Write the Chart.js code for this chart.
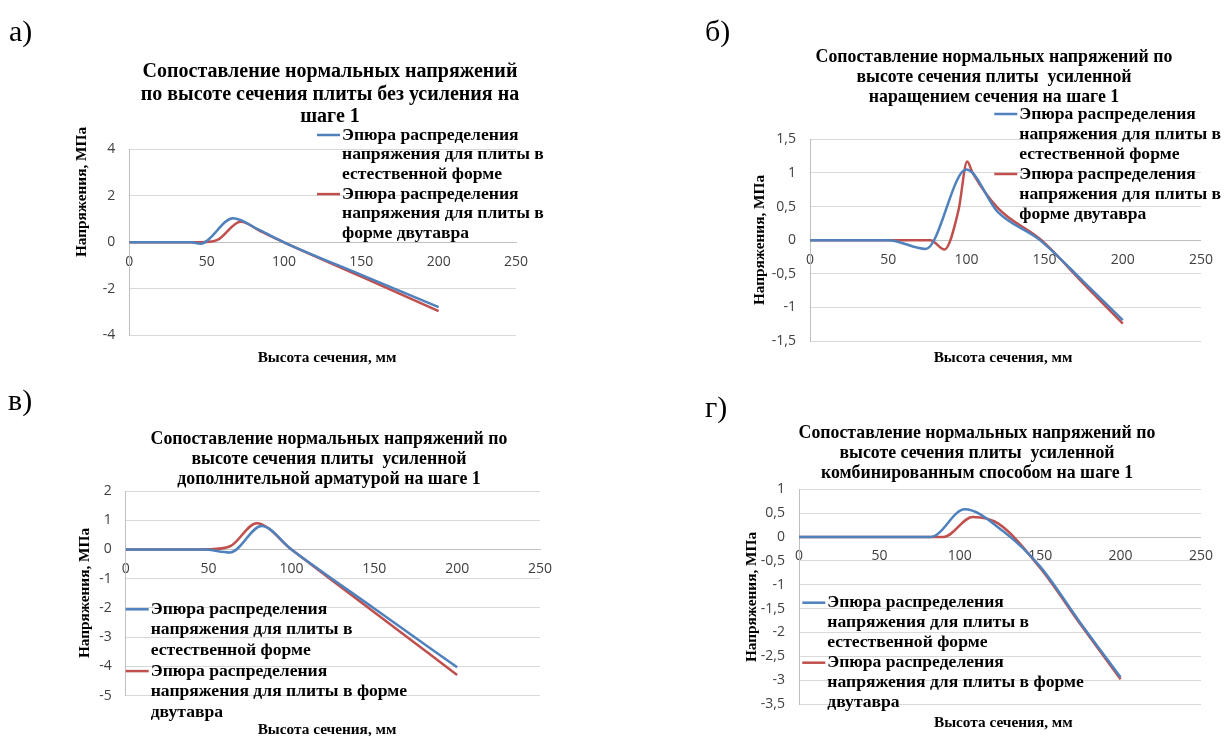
<!DOCTYPE html>
<html>
<head>
<meta charset="utf-8">
<script src="https://cdn.jsdelivr.net/npm/chart.js@4.4.1/dist/chart.umd.min.js"></script>
<style>
  body { margin: 0; background: #fff; }
  #page { position: relative; width: 1224px; height: 736px; overflow: hidden; }
  canvas { position: absolute; }
  .tag { position: absolute; font-family: "Liberation Serif", serif; font-size: 30px; line-height: 30px; color: #000; }
</style>
</head>
<body>
<div id="page">
  <canvas id="chartA" width="612" height="368" style="left:0;top:0"></canvas>
  <canvas id="chartB" width="612" height="368" style="left:612px;top:0"></canvas>
  <canvas id="chartC" width="612" height="368" style="left:0;top:368px"></canvas>
  <canvas id="chartD" width="612" height="368" style="left:612px;top:368px"></canvas>
  <div class="tag" style="left:9px;top:16px">а)</div>
  <div class="tag" style="left:705px;top:16px">б)</div>
  <div class="tag" style="left:8px;top:385px">в)</div>
  <div class="tag" style="left:705px;top:392px">г)</div>
</div>
<script>
// series names (legend)
const labelNatural = "Эпюра распределения напряжения для плиты в естественной форме";
const labelIbeam = "Эпюра распределения напряжения для плиты в форме двутавра";
const xTitle = "Высота сечения, мм";
const yTitle = "Напряжения, МПа";

// а) без усиления
const heightA1 = [0, 20, 40, 46, 67, 84, 100, 150, 200];
const stressA1 = [0, 0, 0, -0.06, 1.03, 0.53, 0, -1.4, -2.79];
const heightA2 = [0, 20, 40, 50, 57, 72, 85, 100, 150, 200];
const stressA2 = [0, 0, 0, 0.01, 0.1, 0.88, 0.47, 0, -1.48, -2.96];

// б) наращение сечения
const heightB1 = [0, 25, 50, 74, 100, 120, 147, 175, 200];
const stressB1 = [0, 0, 0, -0.13, 1.05, 0.42, 0, -0.62, -1.19];
const heightB2 = [0, 25, 50, 77, 86, 95, 100.5, 104, 120, 148, 175, 200];
const stressB2 = [0, 0, 0, 0, -0.14, 0.45, 1.17, 1.0, 0.48, 0, -0.65, -1.24];

// в) дополнительная арматура
const heightC1 = [0, 25, 47, 63, 82, 100, 150, 200];
const stressC1 = [0, 0, 0, -0.1, 0.8, 0, -2.02, -4.03];
const heightC2 = [0, 25, 50, 63, 79, 100, 150, 200];
const stressC2 = [0, 0, 0.01, 0.11, 0.9, 0, -2.15, -4.29];

// г) комбинированный способ
const heightD1 = [0, 40, 82, 103, 127, 150, 175, 200];
const stressD1 = [0, 0, 0, 0.58, 0.12, -0.62, -1.8, -2.94];
const heightD2 = [0, 40, 90, 108, 124, 150, 175, 200];
const stressD2 = [0, 0, 0, 0.42, 0.28, -0.65, -1.83, -2.98];

// y axis ranges [min, max, step]
const yRangeA = [-4, 4, 2];
const yRangeB = [-1.5, 1.5, 0.5];
const yRangeC = [-5, 2, 1];
const yRangeD = [-3.5, 1, 0.5];
const xRange = [0, 250, 50];

// legend wrapping as in the sheet
const legendNarrow = [
  ["Эпюра распределения", "напряжения для плиты в", "естественной форме"],
  ["Эпюра распределения", "напряжения для плиты в", "форме двутавра"]
];
const legendWide = [
  ["Эпюра распределения", "напряжения для плиты в", "естественной форме"],
  ["Эпюра распределения", "напряжения для плиты в форме", "двутавра"]
];

const BLUE = "#4F81BD";
const RED = "#C0504D";
const SERIF = '"Liberation Serif", "Times New Roman", serif';

function points(xs, ys) {
  return xs.map((x, i) => ({ x: x, y: ys[i] }));
}

// titles, axis titles and the legend, placed like in the sheet
function drawTexts(chart, p) {
  const ctx = chart.ctx;
  ctx.save();
  ctx.fillStyle = "#000";
  ctx.textBaseline = "middle";
  ctx.textAlign = "center";

  ctx.font = "bold " + p.titleSize + "px " + SERIF;
  p.title.forEach((line, i) => ctx.fillText(line, p.titleX, p.titleY + i * p.titleStep));

  ctx.font = "bold 15.3px " + SERIF;
  ctx.fillText(xTitle, p.xTitleX, p.xTitleY);
  ctx.save();
  ctx.translate(p.yTitleX, p.yTitleY);
  ctx.rotate(-Math.PI / 2);
  ctx.fillText(yTitle, 0, 0);
  ctx.restore();

  ctx.font = "bold 17.6px " + SERIF;
  ctx.textAlign = "left";
  let y = p.legendY;
  chart.data.datasets.forEach((ds, k) => {
    ctx.strokeStyle = ds.borderColor;
    ctx.lineWidth = 2.5;
    ctx.beginPath();
    ctx.moveTo(p.legendX - 25, y);
    ctx.lineTo(p.legendX - 2, y);
    ctx.stroke();
    p.legend[k].forEach(l => {
      ctx.fillText(l, p.legendX, y);
      y += p.legendStep;
    });
  });
  ctx.restore();
}

function makeChart(id, p) {
  const ctx = document.getElementById(id).getContext("2d");
  return new Chart(ctx, {
    type: "scatter",
    data: {
      datasets: [
        { label: labelNatural, data: points(p.x1, p.y1), borderColor: BLUE, backgroundColor: BLUE },
        { label: labelIbeam, data: points(p.x2, p.y2), borderColor: RED, backgroundColor: RED }
      ]
    },
    options: {
      responsive: false,
      animation: false,
      showLine: true,
      elements: {
        point: { radius: 0, hoverRadius: 0 },
        line: { borderWidth: 2.5, cubicInterpolationMode: "monotone", fill: false }
      },
      layout: { padding: p.pad },
      plugins: {
        legend: { display: false },
        title: { display: false },
        tooltip: { enabled: false }
      },
      scales: {
        x: {
          type: "linear",
          position: { y: 0 },
          min: xRange[0],
          max: xRange[1],
          grid: { display: false, drawTicks: false },
          border: { display: true, color: "#bfbfbf", width: 1 },
          ticks: {
            stepSize: xRange[2],
            padding: 11,
            color: "#404040",
            font: { family: '"Open Sans", sans-serif', size: 14 }
          }
        },
        y: {
          type: "linear",
          position: "left",
          min: p.yr[0],
          max: p.yr[1],
          afterFit: s => { s.width = 60; },
          grid: { color: "#d9d9d9", drawTicks: false },
          border: { display: true, color: "#bfbfbf", width: 1 },
          ticks: {
            stepSize: p.yr[2],
            padding: 14,
            color: "#404040",
            font: { family: '"Open Sans", sans-serif', size: 14 },
            callback: v => String(v).replace(".", ",")
          }
        }
      }
    },
    plugins: [{ id: "sheetText", afterDraw: chart => drawTexts(chart, p) }]
  });
}

makeChart("chartA", {
  x1: heightA1, y1: stressA1, x2: heightA2, y2: stressA2, yr: yRangeA,
  pad: { left: 69.3, top: 149.3, right: 96, bottom: 32.7 },
  title: ["Сопоставление нормальных напряжений", "по высоте сечения плиты без усиления на", "шаге 1"],
  titleSize: 20, titleX: 330, titleY: 72, titleStep: 22.4,
  xTitleX: 327, xTitleY: 358, yTitleX: 82, yTitleY: 192,
  legend: legendNarrow, legendX: 342, legendY: 135, legendStep: 19.7
});

makeChart("chartB", {
  x1: heightB1, y1: stressB1, x2: heightB2, y2: stressB2, yr: yRangeB,
  pad: { left: 138, top: 139.3, right: 20.7, bottom: 27 },
  title: ["Сопоставление нормальных напряжений по", "высоте сечения плиты  усиленной", "наращением сечения на шаге 1"],
  titleSize: 17.8, titleX: 382, titleY: 57.3, titleStep: 20,
  xTitleX: 391, xTitleY: 358, yTitleX: 148, yTitleY: 240,
  legend: legendNarrow, legendX: 407.3, legendY: 114, legendStep: 20
});

makeChart("chartC", {
  x1: heightC1, y1: stressC1, x2: heightC2, y2: stressC2, yr: yRangeC,
  pad: { left: 65.7, top: 123, right: 72, bottom: 40.3 },
  title: ["Сопоставление нормальных напряжений по", "высоте сечения плиты  усиленной", "дополнительной арматурой на шаге 1"],
  titleSize: 17.8, titleX: 329, titleY: 71.3, titleStep: 20.3,
  xTitleX: 327, xTitleY: 362, yTitleX: 85, yTitleY: 225,
  legend: legendWide, legendX: 150.7, legendY: 241.3, legendStep: 20.6
});

makeChart("chartD", {
  x1: heightD1, y1: stressD1, x2: heightD2, y2: stressD2, yr: yRangeD,
  pad: { left: 127, top: 121.3, right: 15.7, bottom: 32 },
  title: ["Сопоставление нормальных напряжений по", "высоте сечения плиты  усиленной", "комбинированным способом на шаге 1"],
  titleSize: 17.8, titleX: 365, titleY: 65.3, titleStep: 20,
  xTitleX: 391.3, xTitleY: 355.3, yTitleX: 139.7, yTitleY: 229,
  legend: legendWide, legendX: 215.3, legendY: 234.7, legendStep: 20
});
</script>
</body>
</html>
